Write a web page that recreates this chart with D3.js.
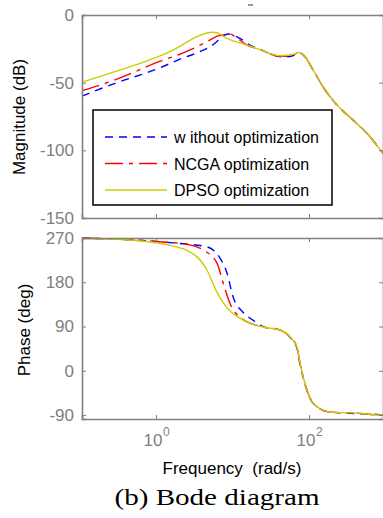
<!DOCTYPE html>
<html>
<head>
<meta charset="utf-8">
<script src="https://cdn.jsdelivr.net/npm/d3@7/dist/d3.min.js"></script>
<style>
  html, body { margin: 0; padding: 0; background: #fff; }
  svg { display: block; }
</style>
</head>
<body>
<div id="chart"></div>
<script>
// frequency (rad/s) and magnitude (dB)
const magWithout = [
  [0.108, -59.9], [0.291, -50.5], [1.09, -39.4], [2.19, -32], [3.76, -27.1],
  [5.91, -20.9], [7.51, -15.5], [8.73, -14], [12.5, -17.3], [16.9, -22.2],
  [25.1, -26.4], [30.9, -28.8], [45.7, -31], [60, -30.3], [74, -27.8],
  [88.7, -30.8], [113, -40.6], [152, -53], [232, -66.5], [376, -77.6],
  [627, -89.9], [900, -101], [955, -102.5]
]
const magNCGA = [
  [0.108, -55.9], [0.291, -48], [1.09, -34.5], [2.19, -28.3], [3.44, -23.4],
  [5.56, -17.3], [6.46, -15.4], [7.51, -14.8], [9.27, -14], [10.8, -16],
  [15.5, -22.2], [25.1, -26.4], [30.9, -28.8], [45.7, -30.6], [60, -30],
  [74, -27.6], [88.7, -30.8], [113, -40.6], [152, -53], [232, -66.5],
  [376, -77.6], [627, -89.9], [900, -101], [955, -102.5]
]
const magDPSO = [
  [0.108, -49.7], [0.291, -41.9], [0.81, -33.3], [1.52, -27.1], [2.19, -22.2],
  [3.44, -16], [5.56, -12.8], [6.27, -13.1], [8.47, -17.3], [15.5, -22.2],
  [25.1, -26.4], [41.8, -30.1], [65.6, -28.8], [74, -27.6], [88.7, -30.8],
  [113, -40.6], [152, -53], [232, -66.5], [376, -77.6], [627, -89.9],
  [900, -101], [955, -102.5]
]

// frequency (rad/s) and phase (deg)
const phaseWithout = [
  [0.108, 270], [1.67, 260], [4.64, 252], [6.87, 229], [8.47, 199],
  [10.2, 150], [13.7, 119], [18.5, 103], [25.1, 90], [41.8, 83],
  [56.5, 68], [69.7, 46], [76.2, 14], [94.1, -40], [113, -66],
  [188, -84], [424, -87], [847, -89], [955, -90]
]
const phaseNCGA = [
  [0.108, 270], [1.23, 262], [2.78, 256], [4.11, 246], [6.27, 219],
  [7.51, 180], [9.27, 137], [12.5, 109], [25.1, 89], [41.8, 83],
  [56.5, 69], [69.7, 48], [76.2, 16], [94.1, -39], [113, -66],
  [188, -84], [424, -86], [847, -90], [955, -90]
]
const phaseDPSO = [
  [0.108, 269], [0.457, 266], [2.06, 250], [2.47, 246], [4.64, 205],
  [6.27, 160], [8.47, 128], [12.5, 107], [25.1, 89], [41.8, 83],
  [56.5, 69], [69.7, 48], [76.2, 16], [94.1, -39], [113, -66],
  [188, -84], [424, -86], [847, -90], [955, -90]
]

const seriesNames = ["w ithout optimization", "NCGA optimization", "DPSO optimization"]
const seriesColors = ["#0000ff", "#ff0000", "#cccc00"]
const seriesDash = ["8,6", "18,6,4,6", null]

const freqTicks = [1, 100]
const magTicks = [0, -50, -100, -150]
const phaseTicks = [270, 180, 90, 0, -90]

const width = 383, height = 518
const svg = d3.select("#chart").append("svg")
  .attr("width", width).attr("height", height)
  .style("font-family", "'Liberation Sans', Arial, sans-serif")

const left = 82, right = 384
const x = d3.scaleLog().domain([0.108, 955]).range([left, right])
const yMag = d3.scaleLinear().domain([-150, 0]).range([218, 15])
const yPh = d3.scaleLinear().domain([-98, 270]).range([419, 238])

const grey = "#808080"
const fmt = d => d < 0 ? "-" + Math.abs(d) : String(d)

function panel(y, yTicks, data, withLegend) {
  const [y0, y1] = y.range() // bottom, top
  const g = svg.append("g")

  // curves
  const line = d3.line().x(d => x(d[0])).y(d => y(d[1])).curve(d3.curveMonotoneX)
  data.forEach((s, i) => {
    g.append("path")
      .attr("d", line(s))
      .attr("fill", "none")
      .attr("stroke", seriesColors[i])
      .attr("stroke-width", 1.4)
      .attr("stroke-dasharray", seriesDash[i])
  })

  // box axes with inward ticks
  g.append("g").attr("transform", `translate(0,${y0})`)
    .call(d3.axisBottom(x).tickValues(freqTicks).tickSize(-4).tickFormat(""))
  g.append("g").attr("transform", `translate(0,${y1})`)
    .call(d3.axisTop(x).tickValues(freqTicks).tickSize(-4).tickFormat(""))
  g.append("g").attr("transform", `translate(${right - 1},0)`)
    .call(d3.axisRight(y).tickValues(yTicks).tickSize(-4).tickFormat(""))
  const yAxis = g.append("g").attr("transform", `translate(${left},0)`)
    .call(d3.axisLeft(y).tickValues(yTicks).tickSize(-4).tickPadding(8).tickFormat(fmt))

  g.selectAll(".domain").attr("stroke", grey).attr("stroke-width", 1.6)
  g.selectAll(".tick line").attr("stroke", grey)
  yAxis.selectAll(".tick text")
    .attr("fill", grey).attr("font-size", 17)
    .attr("font-family", "'Liberation Sans', Arial, sans-serif")

  if (withLegend) {
    const lg = svg.append("g")
    lg.append("rect")
      .attr("x", 93).attr("y", 110).attr("width", 239).attr("height", 95)
      .attr("fill", "#fff").attr("stroke", "#000").attr("stroke-width", 1.5)
    seriesNames.forEach((name, i) => {
      const ly = 137 + i * 26.5
      lg.append("line")
        .attr("x1", 105).attr("x2", 167).attr("y1", ly).attr("y2", ly)
        .attr("stroke", seriesColors[i]).attr("stroke-width", 1.4)
        .attr("stroke-dasharray", seriesDash[i])
      lg.append("text")
        .attr("x", 174).attr("y", ly + 6)
        .attr("font-size", 16).attr("fill", "#000")
        .text(name)
    })
  }
}

panel(yMag, magTicks, [magWithout, magNCGA, magDPSO], true)
panel(yPh, phaseTicks, [phaseWithout, phaseNCGA, phaseDPSO], false)

// x tick labels 10^n
freqTicks.forEach(t => {
  const txt = svg.append("text")
    .attr("x", x(t) - 3).attr("y", 446)
    .attr("text-anchor", "middle")
    .attr("font-size", 17).attr("fill", grey)
    .text("10")
  svg.append("text")
    .attr("x", x(t) + 7).attr("y", 436)
    .attr("font-size", 12).attr("fill", grey)
    .text(Math.round(Math.log10(t)))
})

// axis titles
svg.append("text")
  .attr("transform", "translate(25,117) rotate(-90)")
  .attr("text-anchor", "middle").attr("font-size", 17)
  .text("Magnitude (dB)")
svg.append("text")
  .attr("transform", "translate(30,330) rotate(-90)")
  .attr("text-anchor", "middle").attr("font-size", 17)
  .text("Phase (deg)")
svg.append("text")
  .attr("x", 232).attr("y", 474)
  .attr("text-anchor", "middle").attr("font-size", 17)
  .style("white-space", "pre")
  .text("Frequency  (rad/s)")

// small leftover mark above the top plot
svg.append("line")
  .attr("x1", 248).attr("x2", 253).attr("y1", 5).attr("y2", 5)
  .attr("stroke", "#555").attr("stroke-width", 1.2)

// caption
svg.append("text")
  .attr("x", 217).attr("y", 505)
  .attr("text-anchor", "middle")
  .attr("font-family", "'Liberation Serif', 'Times New Roman', serif")
  .attr("font-size", 24)
  .attr("textLength", 205).attr("lengthAdjust", "spacingAndGlyphs")
  .text("(b) Bode diagram")
</script>
</body>
</html>
